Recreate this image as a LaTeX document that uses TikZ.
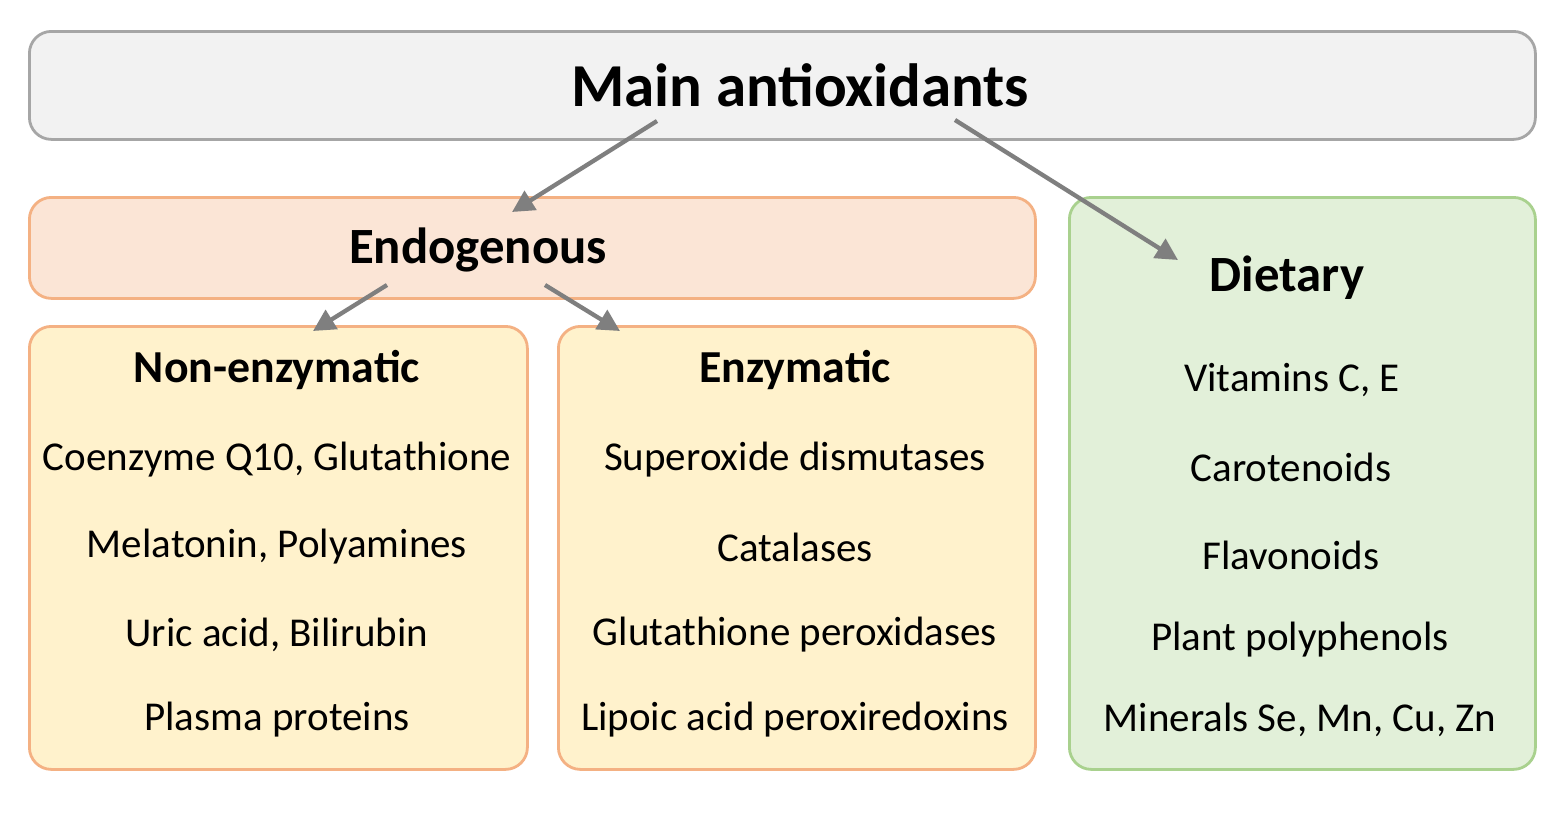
\documentclass[tikz,border=0pt]{standalone}
\usepackage{fontspec}
\setmainfont{Carlito}
\usetikzlibrary{arrows.meta}
\definecolor{mainfill}{HTML}{F2F2F2}
\definecolor{maindraw}{HTML}{A6A6A6}
\definecolor{endofill}{HTML}{FBE5D6}
\definecolor{orangedraw}{HTML}{F4B183}
\definecolor{yelfill}{HTML}{FFF2CC}
\definecolor{greenfill}{HTML}{E2F0D9}
\definecolor{greendraw}{HTML}{A9D18E}
\definecolor{arrowgray}{HTML}{7F7F7F}
\tikzset{
  box/.style={rectangle, rounded corners=22pt, line width=2.8pt, inner sep=0pt, anchor=north west},
  conn/.style={draw=arrowgray, line width=4.3pt, -{Triangle[length=22pt,width=22pt]}},
  item/.style={font=\fontsize{41}{48}\selectfont, inner sep=0pt},
  head/.style={font=\fontsize{45.8}{54}\selectfont\bfseries, inner sep=0pt},
  bighead/.style={font=\fontsize{50.8}{60}\selectfont\bfseries, inner sep=0pt},
}
\begin{document}
\begin{tikzpicture}[x=1pt,y=-1pt]
\useasboundingbox[fill=white] (0,0) rectangle (1563,819);
% boxes
\node[box, fill=mainfill, draw=maindraw, minimum width=1506pt, minimum height=108pt] (main) at (28,30) {};
\node[box, fill=endofill, draw=orangedraw, minimum width=1006pt, minimum height=101pt] (endo) at (28,196) {};
\node[box, fill=yelfill, draw=orangedraw, minimum width=498pt, minimum height=443pt] (nonenz) at (28,325) {};
\node[box, fill=yelfill, draw=orangedraw, minimum width=477pt, minimum height=443pt] (enz) at (557,325) {};
\node[box, fill=greenfill, draw=greendraw, minimum width=466pt, minimum height=572pt] (diet) at (1068,196) {};
% titles
\node[font=\fontsize{61}{70}\selectfont\bfseries, inner sep=0pt] (maint) at (800,85) {Main antioxidants};
\node[bighead] (endot) at (478,250) {Endogenous};
\node[head] (nonenzt) at (277,370) {Non-enzymatic};
\node[head] (enzt) at (795,370) {Enzymatic};
\node[bighead] (dietT) at (1287,278) {Dietary};
% items
\node[item] (n1) at (277,460) {Coenzyme Q10, Glutathione};
\node[item] (n2) at (277,547) {Melatonin, Polyamines};
\node[item] (n3) at (277,635) {Uric acid, Bilirubin};
\node[item] (n4) at (277,720) {Plasma proteins};
\node[item] (e1) at (795,460) {Superoxide dismutases};
\node[item] (e2) at (795,547) {Catalases};
\node[item] (e3) at (795,635) {Glutathione peroxidases};
\node[item] (e4) at (795,720) {Lipoic acid peroxiredoxins};
\node[item] (d1) at (1292,380) {Vitamins C, E};
\node[item] (d2) at (1291,467) {Carotenoids};
\node[item] (d3) at (1291,555) {Flavonoids};
\node[item] (d4) at (1300,640) {Plant polyphenols};
\node[item] (d5) at (1300,720) {Minerals Se, Mn, Cu, Zn};
% connector anchors
\coordinate (mA) at (657,121);
\coordinate (mB) at (955,120);
\coordinate (eA) at (512,212);
\coordinate (dA) at (1178,260);
\coordinate (enA) at (387,285);
\coordinate (enB) at (545,285);
\coordinate (nA) at (313,331);
\coordinate (zA) at (620,331);
\draw[conn] (mA) -- (eA);
\draw[conn] (mB) -- (dA);
\draw[conn] (enA) -- (nA);
\draw[conn] (enB) -- (zA);
\end{tikzpicture}
\end{document}
